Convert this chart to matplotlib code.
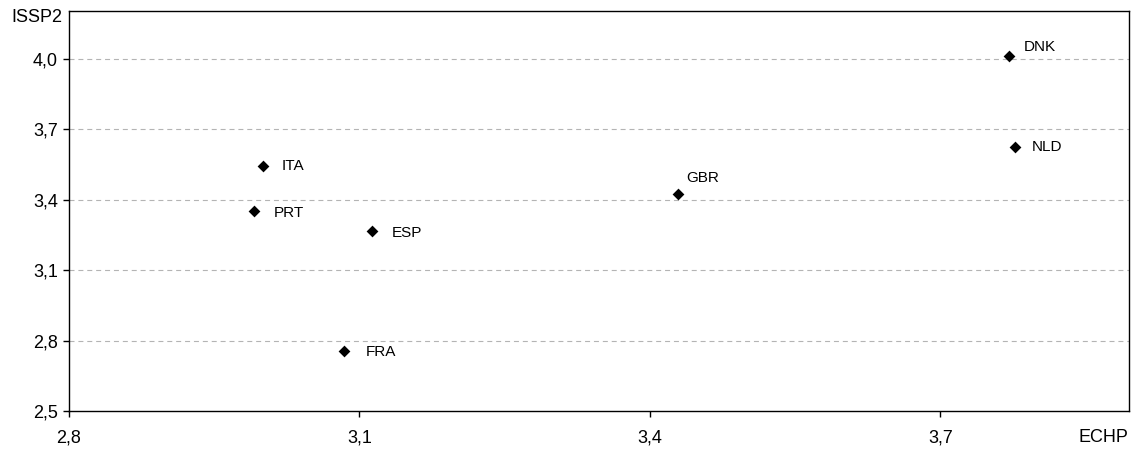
import matplotlib
matplotlib.use("Agg")
import matplotlib.pyplot as plt

plt.rcParams['font.family'] = ['Liberation Sans', 'DejaVu Sans']

# Country codes and their mean scores in the two surveys
countries = ["ITA", "PRT", "ESP", "FRA", "GBR", "DNK", "NLD"]
echp = [3.000, 2.991, 3.113, 3.084, 3.429, 3.771, 3.777]
issp2 = [3.545, 3.353, 3.266, 2.757, 3.426, 4.014, 3.625]

x_ticks = [2.8, 3.1, 3.4, 3.7]
y_ticks = [2.5, 2.8, 3.1, 3.4, 3.7, 4.0]
x_tick_labels = ["2,8", "3,1", "3,4", "3,7"]
y_tick_labels = ["2,5", "2,8", "3,1", "3,4", "3,7", "4,0"]

# Label offsets (points) relative to each marker
label_offsets = {
    "ITA": (14, 0), "PRT": (14, -1.5), "ESP": (14, -1), "FRA": (16, -1),
    "GBR": (6, 11.5), "DNK": (11, 6), "NLD": (12, 0),
}

W, H = 1148, 451
fig = plt.figure(figsize=(W / 100, H / 100), dpi=100)
ax = fig.add_axes([69 / W, (H - 411) / H, (1129 - 69) / W, (411 - 11) / H])

ax.set_xlim(2.8, 3.895)
ax.set_ylim(2.5, 4.205)

ax.set_yticks(y_ticks)
ax.set_yticklabels(y_tick_labels)
ax.set_xticks(x_ticks)
ax.set_xticklabels(x_tick_labels)

ax.grid(axis="y", color="#b4b4b4", linestyle=(0, (4.5, 3.5)), linewidth=0.8)
ax.set_axisbelow(True)
# keep the bottom gridline from showing over the spine
for line in ax.get_ygridlines()[:1]:
    line.set_visible(False)

for sp in ax.spines.values():
    sp.set_color("black")
    sp.set_linewidth(1.0)

ax.tick_params(axis="both", direction="out", length=4, width=1.0,
               color="black", labelsize=13, labelcolor="black")
ax.tick_params(axis="x", pad=9)
ax.tick_params(axis="y", pad=4)

ax.scatter(echp, issp2, marker="D", s=36, color="black", zorder=3,
           linewidths=0)

for name, x, y in zip(countries, echp, issp2):
    dx, dy = label_offsets[name]
    ax.annotate(name, (x, y), xytext=(dx, dy), textcoords="offset points",
                ha="left", va="center", fontsize=11, color="black")

fig.text(1103 / W, (H - 438) / H, "ECHP", ha="center", va="center",
         fontsize=13, color="black")
fig.text(62 / W, (H - 18) / H, "ISSP2", ha="right", va="center",
         fontsize=13, color="black")

fig.savefig("out.png", dpi=100, facecolor="white")
